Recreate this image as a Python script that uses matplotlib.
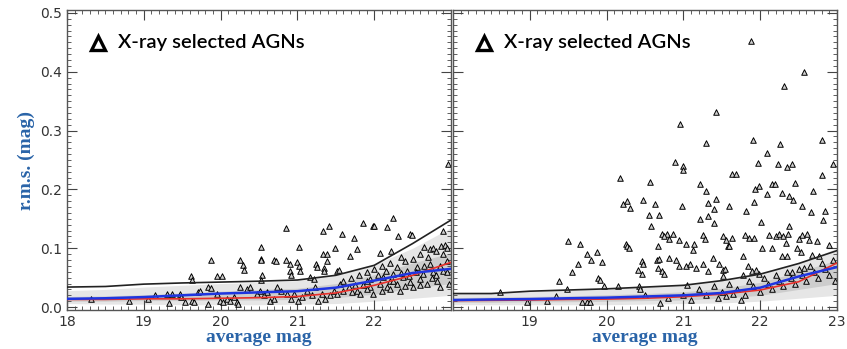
import numpy as np
import matplotlib
matplotlib.use("Agg")
import matplotlib.pyplot as plt
from matplotlib.ticker import MultipleLocator

# curves sampled on a common magnitude grid
mag_grid = [18.0, 18.5, 19.0, 19.5, 20.0, 20.5, 21.0, 21.5, 22.0, 22.5, 23.0]

left_black = [0.034, 0.035, 0.039, 0.041, 0.0425, 0.044, 0.046, 0.054, 0.071, 0.108, 0.148]
left_blue = [0.014, 0.015, 0.017, 0.020, 0.023, 0.025, 0.027, 0.033, 0.045, 0.058, 0.065]
left_red = [0.013, 0.013, 0.014, 0.014, 0.015, 0.016, 0.018, 0.024, 0.037, 0.054, 0.076]

right_black = [0.023, 0.023, 0.027, 0.029, 0.031, 0.034, 0.037, 0.045, 0.056, 0.074, 0.096]
right_blue = [0.012, 0.013, 0.0136, 0.015, 0.016, 0.018, 0.020, 0.024, 0.033, 0.052, 0.068]
right_red = [0.011, 0.0115, 0.012, 0.013, 0.0136, 0.015, 0.0176, 0.022, 0.029, 0.043, 0.075]

# grey field-source cloud (outer envelope and denser core)
left_cloud_lo = [0.006, 0.005, 0.005, 0.004, 0.004, 0.004, 0.005, 0.006, 0.010, 0.015, 0.020]
left_cloud_hi = [0.028, 0.030, 0.034, 0.037, 0.040, 0.042, 0.045, 0.055, 0.072, 0.100, 0.135]
left_core_lo = [0.010, 0.010, 0.011, 0.011, 0.012, 0.012, 0.013, 0.016, 0.022, 0.032, 0.040]
left_core_hi = [0.018, 0.019, 0.021, 0.024, 0.027, 0.030, 0.032, 0.040, 0.055, 0.075, 0.092]

right_cloud_lo = [0.004, 0.004, 0.004, 0.004, 0.004, 0.005, 0.006, 0.007, 0.010, 0.015, 0.020]
right_cloud_hi = [0.024, 0.025, 0.027, 0.029, 0.031, 0.034, 0.038, 0.045, 0.058, 0.075, 0.100]
right_core_lo = [0.008, 0.008, 0.009, 0.009, 0.010, 0.011, 0.012, 0.015, 0.020, 0.030, 0.040]
right_core_hi = [0.016, 0.017, 0.018, 0.019, 0.021, 0.023, 0.026, 0.032, 0.042, 0.060, 0.080]

# X-ray selected AGNs, left panel
left_agn_mag = [
    22.96, 22.25, 21.85, 21.98, 22.00, 22.16, 21.41, 21.33, 20.85, 21.58, 21.74, 22.31,
    22.47, 22.49, 22.90, 20.52, 21.02, 21.49, 21.77, 21.69, 22.22, 22.07, 21.33, 21.38,
    21.38, 19.87, 20.25, 20.52, 20.53, 20.69, 20.72, 20.85, 20.90, 20.99, 20.29, 20.30,
    21.02, 21.04, 21.24, 21.26, 21.34, 21.35, 20.90, 20.92, 21.52, 21.54, 19.61, 19.63,
    19.95, 20.02, 20.54, 20.52, 21.17, 21.21, 22.35, 22.65, 22.73, 22.77, 22.87, 22.92,
    22.95, 18.31, 18.81, 19.14, 19.06, 19.33, 19.30, 19.37, 19.47, 19.49, 19.54, 19.63,
    19.66, 19.71, 19.73, 19.84, 19.84, 19.87, 19.95, 19.99, 20.03, 20.08, 20.12, 20.17,
    20.21, 20.23, 20.25, 20.34, 20.38, 20.47, 20.51, 20.56, 20.60, 20.64, 20.69, 20.73,
    20.78, 20.86, 20.91, 20.95, 21.01, 21.06, 21.12, 21.19, 21.23, 21.27, 21.32, 21.36,
    21.43, 21.47, 21.51, 21.56, 21.60, 21.67, 21.71, 21.77, 21.82, 21.86, 21.90, 21.95,
    21.99, 22.08, 22.12, 22.16, 22.21, 22.25, 22.30, 22.34, 22.38, 22.43, 22.47, 22.51,
    22.56, 22.60, 22.64, 22.69, 22.73, 22.77, 22.82, 22.86, 22.90, 22.95, 22.97, 21.60,
    21.70, 21.80, 21.90, 22.00, 22.10, 22.20, 22.30, 22.40, 22.50, 22.60, 22.70, 22.80,
    22.90, 21.75, 21.95, 22.05, 22.15, 22.25, 22.35, 22.45, 22.55, 22.65, 22.75, 22.85,
    22.95, 22.20, 22.40, 22.60, 22.80, 22.10, 21.90,
]
left_agn_rms = [
    0.244, 0.152, 0.143, 0.138, 0.138, 0.136, 0.137, 0.130, 0.135, 0.125, 0.118, 0.120,
    0.125, 0.122, 0.130, 0.102, 0.102, 0.101, 0.099, 0.086, 0.096, 0.092, 0.090, 0.090,
    0.079, 0.080, 0.080, 0.082, 0.080, 0.080, 0.079, 0.080, 0.074, 0.077, 0.071, 0.063,
    0.069, 0.062, 0.073, 0.068, 0.066, 0.062, 0.061, 0.054, 0.062, 0.063, 0.052, 0.046,
    0.052, 0.052, 0.054, 0.046, 0.051, 0.048, 0.085, 0.102, 0.099, 0.101, 0.103, 0.106,
    0.100, 0.014, 0.010, 0.020, 0.014, 0.007, 0.023, 0.023, 0.023, 0.017, 0.009, 0.011,
    0.009, 0.026, 0.028, 0.006, 0.034, 0.033, 0.023, 0.011, 0.009, 0.014, 0.010, 0.017,
    0.009, 0.006, 0.034, 0.031, 0.034, 0.023, 0.028, 0.020, 0.026, 0.011, 0.014, 0.034,
    0.028, 0.023, 0.014, 0.023, 0.011, 0.017, 0.028, 0.020, 0.034, 0.011, 0.023, 0.014,
    0.020, 0.028, 0.023, 0.040, 0.028, 0.034, 0.026, 0.028, 0.023, 0.037, 0.045, 0.034,
    0.023, 0.040, 0.051, 0.034, 0.045, 0.057, 0.040, 0.028, 0.051, 0.062, 0.043, 0.034,
    0.068, 0.048, 0.057, 0.040, 0.074, 0.060, 0.045, 0.034, 0.062, 0.079, 0.040, 0.045,
    0.050, 0.055, 0.060, 0.065, 0.070, 0.075, 0.068, 0.078, 0.082, 0.090, 0.085, 0.095,
    0.090, 0.038, 0.048, 0.055, 0.062, 0.045, 0.058, 0.052, 0.060, 0.070, 0.050, 0.070,
    0.060, 0.030, 0.035, 0.038, 0.055, 0.028, 0.030,
]

# X-ray selected AGNs, right panel
right_agn_mag = [
    21.88, 22.57, 22.31, 21.43, 20.95, 21.29, 21.90, 22.80, 22.26, 22.09, 20.89, 21.00,
    21.00, 21.97, 22.23, 22.35, 22.42, 22.95, 20.18, 20.57, 21.63, 21.69, 22.80, 21.22,
    22.16, 22.19, 22.45, 21.93, 21.99, 22.09, 22.29, 22.38, 22.43, 22.69, 20.22, 20.26,
    20.30, 20.47, 20.63, 20.98, 21.30, 21.32, 21.43, 21.40, 21.60, 21.81, 21.92, 22.54,
    22.66, 22.84, 20.55, 20.68, 21.22, 21.32, 21.40, 22.01, 22.82, 20.58, 20.72, 20.79,
    20.86, 20.75, 20.81, 20.67, 20.94, 21.03, 21.14, 21.26, 21.28, 21.12, 21.51, 21.55,
    21.63, 21.58, 21.60, 21.80, 21.86, 21.92, 22.11, 22.20, 22.25, 22.30, 22.36, 22.38,
    22.55, 22.61, 22.51, 22.64, 22.74, 22.02, 22.33, 22.16, 22.29, 22.35, 22.48, 22.53,
    22.68, 22.77, 22.90, 19.50, 19.65, 19.75, 19.88, 19.80, 19.94, 19.63, 19.55, 19.89,
    19.92, 19.38, 20.25, 20.27, 20.29, 20.46, 20.48, 20.41, 20.46, 20.66, 20.68, 20.67,
    20.72, 20.75, 20.81, 20.91, 20.94, 21.03, 21.08, 21.16, 21.25, 21.32, 21.38, 21.46,
    21.52, 21.54, 21.51, 21.77, 21.84, 21.89, 21.98, 21.78, 21.94, 22.42, 22.57, 20.15,
    20.42, 20.44, 19.97, 19.48, 18.61, 19.34, 19.68, 19.75, 19.79, 18.96, 19.23, 20.70,
    21.05, 21.20, 21.30, 21.40, 21.50, 21.60, 21.70, 21.80, 21.85, 21.90, 22.00, 22.05,
    22.10, 22.15, 22.20, 22.25, 22.30, 22.35, 22.40, 22.45, 22.50, 22.55, 22.60, 22.65,
    22.70, 22.75, 22.80, 22.85, 22.90, 22.95, 22.97, 20.50, 20.80, 21.00, 21.10, 21.45,
    21.55, 21.65, 21.75,
]
right_agn_rms = [
    0.453, 0.400, 0.375, 0.331, 0.311, 0.279, 0.284, 0.284, 0.277, 0.262, 0.246, 0.239,
    0.233, 0.245, 0.244, 0.238, 0.244, 0.244, 0.220, 0.213, 0.227, 0.227, 0.225, 0.209,
    0.209, 0.209, 0.211, 0.200, 0.205, 0.193, 0.194, 0.188, 0.182, 0.197, 0.176, 0.180,
    0.169, 0.182, 0.176, 0.172, 0.197, 0.177, 0.184, 0.166, 0.171, 0.164, 0.178, 0.172,
    0.162, 0.164, 0.156, 0.156, 0.150, 0.155, 0.143, 0.144, 0.148, 0.138, 0.125, 0.125,
    0.125, 0.120, 0.115, 0.104, 0.114, 0.107, 0.108, 0.122, 0.115, 0.097, 0.120, 0.114,
    0.117, 0.103, 0.103, 0.122, 0.117, 0.117, 0.122, 0.120, 0.125, 0.120, 0.125, 0.137,
    0.122, 0.125, 0.115, 0.114, 0.112, 0.100, 0.109, 0.100, 0.086, 0.086, 0.100, 0.094,
    0.088, 0.086, 0.105, 0.113, 0.108, 0.090, 0.093, 0.080, 0.076, 0.073, 0.060, 0.050,
    0.046, 0.044, 0.107, 0.104, 0.100, 0.079, 0.074, 0.063, 0.056, 0.080, 0.081, 0.066,
    0.062, 0.057, 0.083, 0.080, 0.069, 0.070, 0.074, 0.066, 0.074, 0.062, 0.084, 0.074,
    0.063, 0.064, 0.052, 0.086, 0.069, 0.062, 0.057, 0.054, 0.063, 0.060, 0.066, 0.035,
    0.035, 0.030, 0.035, 0.031, 0.026, 0.019, 0.009, 0.009, 0.009, 0.009, 0.010, 0.007,
    0.037, 0.030, 0.020, 0.035, 0.025, 0.040, 0.030, 0.020, 0.045, 0.035, 0.025, 0.050,
    0.040, 0.030, 0.055, 0.045, 0.035, 0.060, 0.050, 0.040, 0.065, 0.055, 0.045, 0.070,
    0.060, 0.050, 0.075, 0.065, 0.055, 0.080, 0.045, 0.020, 0.015, 0.020, 0.012, 0.015,
    0.018, 0.022, 0.012,
]

legend_text = "X-ray selected AGNs"
xlabel_text = "average mag"
ylabel_text = "r.m.s. (mag)"
label_blue = "#2a64a8"


def _style_axis(ax, show_ylabels, xtick_values):
    ax.set_xlim(18, 23)
    ax.set_ylim(-0.005, 0.505)
    ax.set_xticks(xtick_values)
    ax.set_yticks([0.0, 0.1, 0.2, 0.3, 0.4, 0.5])
    ax.xaxis.set_minor_locator(MultipleLocator(0.1))
    ax.yaxis.set_minor_locator(MultipleLocator(0.01))
    ax.tick_params(which="both", direction="in", top=True, right=True,
                   colors="#444444", labelcolor="#333333", labelsize=10)
    ax.tick_params(which="major", length=7, width=0.8)
    ax.tick_params(which="minor", length=3, width=0.6)
    ax.yaxis.set_major_formatter(plt.FuncFormatter(lambda v, _p: f"{v:.1f}"))
    if not show_ylabels:
        ax.set_yticklabels([])
    for spine in ax.spines.values():
        spine.set_color("#555555")
        spine.set_linewidth(1.0)
    ax.set_xlabel(xlabel_text, family="Liberation Serif", weight="bold",
                  fontsize=14, color=label_blue, labelpad=0)


def _draw_panel(ax, agn_mag, agn_rms, cloud, core, black, blue, red):
    ax.fill_between(mag_grid, cloud[0], cloud[1], color="#e6e6e6", lw=0, zorder=1)
    ax.fill_between(mag_grid, core[0], core[1], color="#cdcdcd", lw=0, zorder=1)
    ax.scatter(agn_mag, agn_rms, marker="^", s=16, facecolors="#d0d0d0",
               edgecolors="black", linewidths=0.7, zorder=2)
    ax.plot(mag_grid, black, color="#222222", lw=1.2, zorder=3)
    ax.plot(mag_grid, red, color="#e8302a", lw=1.2, zorder=4)
    ax.plot(mag_grid, blue, color="#1f35e0", lw=1.8, zorder=5)
    ax.plot([0.081], [0.891], marker="^", ms=10, mfc="white", mec="black",
            mew=2.4, transform=ax.transAxes, clip_on=False)
    ax.text(0.133, 0.891, legend_text, transform=ax.transAxes, va="center",
            ha="left", fontsize=14.5, family="Lato", weight="semibold")


fig = plt.figure(figsize=(8.47, 3.49), dpi=100)
ax_left = fig.add_axes([0.0791, 0.1117, 0.4534, 0.8596])
ax_right = fig.add_axes([0.5348, 0.1117, 0.4534, 0.8596])

_draw_panel(ax_left, left_agn_mag, left_agn_rms,
            (left_cloud_lo, left_cloud_hi), (left_core_lo, left_core_hi),
            left_black, left_blue, left_red)
_draw_panel(ax_right, right_agn_mag, right_agn_rms,
            (right_cloud_lo, right_cloud_hi), (right_core_lo, right_core_hi),
            right_black, right_blue, right_red)

_style_axis(ax_left, True, [18, 19, 20, 21, 22])
_style_axis(ax_right, False, [19, 20, 21, 22, 23])
ax_left.set_ylabel(ylabel_text, family="Liberation Serif", weight="bold",
                   fontsize=14, color=label_blue, labelpad=4)

fig.savefig("out.png", dpi=100)
